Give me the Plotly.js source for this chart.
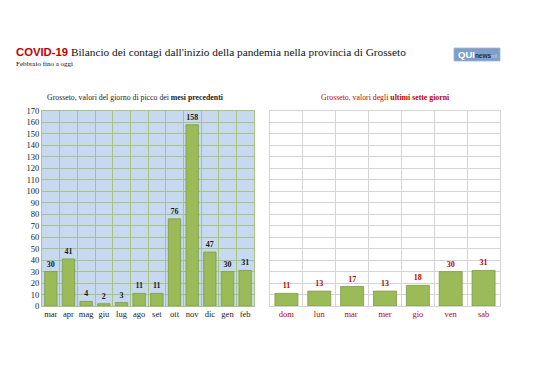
<!DOCTYPE html>
<html>
<head>
<meta charset="utf-8">
<script src="https://cdn.plot.ly/plotly-3.0.1.min.js"></script>
<style>html,body{margin:0;padding:0;background:#fff;}#chart{width:538px;height:380px;}</style>
</head>
<body>
<div id="chart"></div>
<script>
const months = ["mar","apr","mag","giu","lug","ago","set","ott","nov","dic","gen","feb"];
const monthPeaks = [30,41,4,2,3,11,11,76,158,47,30,31];
const days = ["dom","lun","mar ","mer","gio","ven","sab"];
const dayValues = [11,13,17,13,18,30,31];

const serif = "Liberation Serif, DejaVu Serif, serif";
const barFill = "#9bbb59";
const barLine = "#7d9a44";
const red = "#c00000";

const traces = [
  {
    type: "bar", x: months, y: monthPeaks, xaxis: "x", yaxis: "y",
    marker: {color: barFill, line: {color: barLine, width: 0.8}},
    text: monthPeaks.map(String), textposition: "outside", constraintext: "none",
    cliponaxis: false,
    textfont: {family: serif, size: 8, color: "#1a1a1a", weight: "bold"},
    hoverinfo: "skip"
  },
  {
    type: "bar", x: days, y: dayValues, xaxis: "x2", yaxis: "y2",
    marker: {color: barFill, line: {color: barLine, width: 0.8}},
    text: dayValues.map(String), textposition: "outside", constraintext: "none",
    cliponaxis: false,
    textfont: {family: serif, size: 8, color: red, weight: "bold"},
    hoverinfo: "skip"
  }
];

const W = 538, H = 380;
const fx = p => p / W, fy = p => (H - p) / H;

const layout = {
  width: W, height: H,
  margin: {l: 0, r: 0, t: 0, b: 0},
  paper_bgcolor: "#ffffff",
  plot_bgcolor: "rgba(0,0,0,0)",
  showlegend: false,
  bargap: 0.3,
  font: {family: serif, color: "#1a1a1a"},
  xaxis: {
    domain: [fx(42), fx(254)], anchor: "y", type: "category", tickson: "boundaries",
    showgrid: true, gridcolor: "#a9c47f", gridwidth: 1, tickangle: 0,
    ticks: "", tickfont: {family: serif, size: 8.5, color: "#1a1a1a"},
    showline: true, linecolor: "#a9c47f", mirror: true, fixedrange: true
  },
  yaxis: {
    domain: [fy(306), fy(111)], anchor: "x", range: [0, 170], dtick: 10,
    showgrid: true, gridcolor: "#a9c47f", gridwidth: 1, zeroline: false,
    ticks: "", tickfont: {family: serif, size: 8.5, color: "#1a1a1a"},
    showline: true, linecolor: "#a9c47f", mirror: true, fixedrange: true
  },
  xaxis2: {
    domain: [fx(270), fx(500)], anchor: "y2", type: "category", tickson: "boundaries",
    showgrid: true, gridcolor: "#d4d4d4", gridwidth: 1, tickangle: 0,
    ticks: "", tickfont: {family: serif, size: 8.5, color: red},
    showline: true, linecolor: "#d4d4d4", mirror: true, fixedrange: true
  },
  yaxis2: {
    domain: [fy(306), fy(111)], anchor: "x2", range: [0, 170], dtick: 10,
    showgrid: true, gridcolor: "#d4d4d4", gridwidth: 1, zeroline: false,
    showticklabels: false, ticks: "",
    showline: true, linecolor: "#d4d4d4", mirror: true, fixedrange: true
  },
  shapes: [
    {type: "rect", xref: "x domain", yref: "y domain", x0: 0, x1: 1, y0: 0, y1: 1,
     fillcolor: "#c6d9f0", line: {width: 0}, layer: "below"},
    {type: "rect", xref: "paper", yref: "paper", x0: fx(454), x1: fx(500), y0: fy(61), y1: fy(48),
     fillcolor: "#7f9fc8", line: {color: "#9fb6d6", width: 0.8}, layer: "below"}
  ],
  annotations: [
    {xref: "paper", yref: "paper", x: fx(14), y: fy(52), xanchor: "left", yanchor: "middle", showarrow: false,
     text: "<span style='font-family:Liberation Sans, Arial, sans-serif;color:#c00000;font-weight:bold'>COVID-19</span> Bilancio dei contagi dall'inizio della pandemia nella provincia di Grosseto",
     font: {family: serif, size: 11.3, color: "#111"}},
    {xref: "paper", yref: "paper", x: fx(14), y: fy(64), xanchor: "left", yanchor: "middle", showarrow: false,
     text: "Febbraio fino a oggi", font: {family: serif, size: 7, color: "#111"}},
    {xref: "paper", yref: "paper", x: fx(477), y: fy(54.5), xanchor: "center", yanchor: "middle", showarrow: false,
     text: "<b>QUI</b><span style='font-size:6.5px;color:#1d2f52'><b>news</b></span><span style='font-size:5.5px;color:#c9d6ea'>ml</span>",
     font: {family: "Liberation Sans, Arial, sans-serif", size: 9.5, color: "#ffffff"}},
    {xref: "paper", yref: "paper", x: fx(135), y: fy(97), xanchor: "center", yanchor: "middle", showarrow: false,
     text: "Grosseto, valori del giorno di picco dei <b>mesi precedenti</b>",
     font: {family: serif, size: 7.8, color: "#1a1a1a"}},
    {xref: "paper", yref: "paper", x: fx(385), y: fy(97), xanchor: "center", yanchor: "middle", showarrow: false,
     text: "Grosseto, valori degli <b>ultimi sette giorni</b>",
     font: {family: serif, size: 7.8, color: red}}
  ]
};

Plotly.newPlot("chart", traces, layout, {staticPlot: true, displayModeBar: false});
</script>
</body>
</html>
